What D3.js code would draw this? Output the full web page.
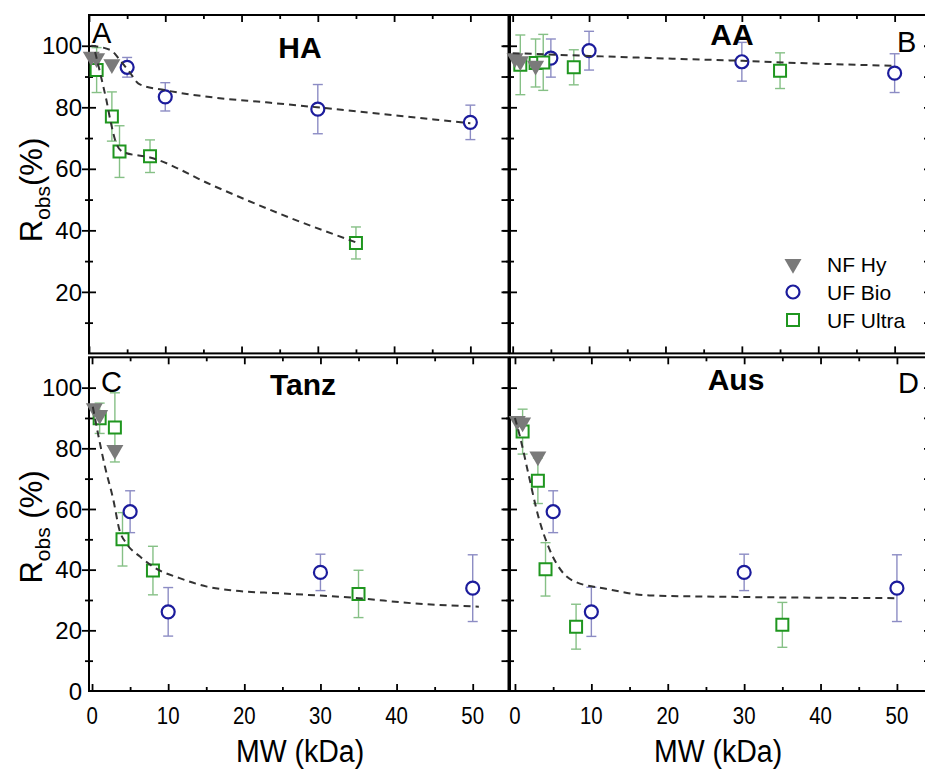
<!DOCTYPE html>
<html>
<head>
<meta charset="utf-8">
<script src="https://cdn.jsdelivr.net/npm/d3@7"></script>
<style>
  body { margin: 0; background: #fff; overflow: hidden; }
  text { font-family: "Liberation Sans", Arial, sans-serif; fill: #000; }
</style>
</head>
<body>
<script>
// MW of each membrane type (kDa)
var mwNF = [0.3, 1, 3],
    mwBio = [5, 10, 30, 50],
    mwUltra = [1, 3, 4, 8, 35];

// rejection values (%)
var nfHA = [96.5, 96, 94],
    bioHA = [93.0, 83.4, 79.4, 75.1],
    bioErrHA = [3.2, 4.6, 8, 5.6],
    ultraHA = [92.1, 77.0, 65.6, 64.1, 35.9],
    ultraErrHA = [7.3, 8, 8.4, 5.3, 5.2];

var nfAA = [96, 95, 93.5],
    bioAA = [96.0, 98.4, 94.8, 91.1],
    bioErrAA = [6.2, 6.3, 6.3, 6.3],
    ultraAA = [93.8, 94.4, 94.6, 93.0, 91.9],
    ultraErrAA = [9.7, 7.8, 9.1, 5.7, 5.8];

var nfTanz = [93.2, 91, 79.5],
    bioTanz = [59.1, 26.1, 39.1, 33.9],
    bioErrTanz = [6.9, 8, 6, 11],
    ultraTanz = [89.9, 86.9, 50.0, 39.7, 32.0],
    ultraErrTanz = [5, 11.4, 8.8, 8, 7.8];

var nfAus = [89, 88.5, 77.3],
    bioAus = [59.1, 26.1, 39.1, 33.9],
    bioErrAus = [6.9, 8.1, 6, 11],
    ultraAus = [85.5, 69.3, 40.1, 21.2, 21.8],
    ultraErrAus = [7.4, 7.5, 8.8, 7.4, 7.4];

// dashed fit curves [MW, R]
var fitHA1 = [[0.3,100],[2.9,98.5],[4,95.5],[5.3,91.5],[6.6,87.5],[9.9,85.6],[16.3,83.2],[23.2,81.6],[29.9,80],[40.3,77.3],[50,74.8]],
    fitHA2 = [[0.8,98],[1.6,89.7],[2.3,82.1],[2.9,74.6],[3.6,68.1],[4.5,65.4],[8,63.7],[16.3,54.5],[25,45.4],[35,36.1]],
    fitAA = [[0,97.6],[10,96.7],[20.9,95.8],[30.1,95.1],[38.4,94.3],[50,93.5]],
    fitTanz = [[0.1,93.7],[1.7,73.9],[2.8,63],[3.6,53.1],[4.5,48.7],[6.3,44.3],[8,41],[11.5,37.2],[15.1,34.4],[18.6,33.1],[24.7,32.2],[35,30.6],[42.2,28.9],[50.8,27.8]],
    fitAus = [[0,90],[0.66,83.8],[1.75,71.7],[3.07,57.4],[4.39,47.5],[6.37,38.7],[7.9,36],[11.9,33.7],[17.6,31.5],[29.4,31],[50,30.6]];

var xMajor = [0, 10, 20, 30, 40, 50],
    xMinor = [5, 15, 25, 35, 45],
    yMajor = [20, 40, 60, 80, 100],
    yMinor = [10, 30, 50, 70, 90],
    yLabelsTop = [20, 40, 60, 80, 100],
    yLabelsBottom = [0, 20, 40, 60, 80, 100];

var legendNames = ["NF Hy", "UF Bio", "UF Ultra"];

var cNF = "#7a7a7a", cBio = "#1c1c9c", cUltra = "#1f961f",
    cBioErr = "#8c8cc4", cUltraErr = "#86c086";

var width = 925, height = 770;

var svg = d3.select("body").append("svg")
    .attr("width", width)
    .attr("height", height)
    .style("display", "block");

var panels = [
  {name: "HA", letter: "A", left: 89, right: 508.5, xd: [0, 55], top: 15, bottom: 353.4,
   nf: nfHA, bio: bioHA, bioErr: bioErrHA, ultra: ultraHA, ultraErr: ultraErrHA, fits: [fitHA1, fitHA2],
   yLabels: yLabelsTop, xLabels: false, tx: 300, ty: 58, lx: 92, ly: 43},
  {name: "AA", letter: "B", left: 510, right: 931, xd: [-0.35, 54.76], top: 15, bottom: 353.4,
   nf: nfAA, bio: bioAA, bioErr: bioErrAA, ultra: ultraAA, ultraErr: ultraErrAA, fits: [fitAA],
   yLabels: null, xLabels: false, tx: 732, ty: 45, lx: 897, ly: 52},
  {name: "Tanz", letter: "C", left: 89, right: 508.5, xd: [-0.4, 54.7], top: 357.3, bottom: 691,
   nf: nfTanz, bio: bioTanz, bioErr: bioErrTanz, ultra: ultraTanz, ultraErr: ultraErrTanz, fits: [fitTanz],
   yLabels: yLabelsBottom, xLabels: true, tx: 303, ty: 395, lx: 101, ly: 392},
  {name: "Aus", letter: "D", left: 510, right: 931, xd: [-0.65, 54.46], top: 357.3, bottom: 691,
   nf: nfAus, bio: bioAus, bioErr: bioErrAus, ultra: ultraAus, ultraErr: ultraErrAus, fits: [fitAus],
   yLabels: null, xLabels: true, tx: 736, ty: 390, lx: 898, ly: 393}
];

var tri = d3.symbol().type(d3.symbolTriangle).size(125)(),
    sq = d3.symbol().type(d3.symbolSquare).size(144)();

function tickAxis(g, axis, tr, values, size) {
  g.append("g")
    .attr("transform", tr)
    .call(axis.tickValues(values).tickSize(size).tickFormat(""))
    .call(function(s) { s.select(".domain").remove(); })
    .selectAll("line").attr("stroke", "#000").attr("stroke-width", 1.8);
}

panels.forEach(function(p) {
  var x = d3.scaleLinear().domain(p.xd).range([p.left, p.right]);
  var y = d3.scaleLinear().domain([0, 110]).range([p.bottom, p.top]);
  var g = svg.append("g");

  // ticks: bottom/top/right inward, left in and out
  tickAxis(g, d3.axisBottom(x), "translate(0," + p.bottom + ")", xMajor, -7);
  tickAxis(g, d3.axisBottom(x), "translate(0," + p.bottom + ")", xMinor, -4);
  tickAxis(g, d3.axisTop(x), "translate(0," + p.top + ")", xMajor, -7);
  tickAxis(g, d3.axisTop(x), "translate(0," + p.top + ")", xMinor, -4);
  tickAxis(g, d3.axisRight(y), "translate(" + p.right + ",0)", yMajor, -7);
  tickAxis(g, d3.axisRight(y), "translate(" + p.right + ",0)", yMinor, -7);
  tickAxis(g, d3.axisLeft(y), "translate(" + p.left + ",0)", yMajor, 7);
  tickAxis(g, d3.axisLeft(y), "translate(" + p.left + ",0)", yMinor, 4);
  tickAxis(g, d3.axisLeft(y), "translate(" + p.left + ",0)", yMajor, -7);
  tickAxis(g, d3.axisLeft(y), "translate(" + p.left + ",0)", yMinor, -4);

  g.append("rect")
    .attr("x", p.left).attr("y", p.top)
    .attr("width", p.right - p.left).attr("height", p.bottom - p.top)
    .attr("fill", "none").attr("stroke", "#000").attr("stroke-width", 2);

  if (p.yLabels) {
    g.selectAll(".ylab").data(p.yLabels).enter().append("text")
      .attr("x", 82).attr("y", function(d) { return y(d); })
      .attr("dy", "0.36em")
      .attr("text-anchor", "end")
      .style("font-size", "24px")
      .text(function(d) { return d; });
  }
  if (p.xLabels) {
    g.selectAll(".xlab").data(xMajor).enter().append("text")
      .attr("transform", function(d) { return "translate(" + x(d) + ",724) scale(0.85,1)"; })
      .attr("text-anchor", "middle")
      .style("font-size", "24px")
      .text(function(d) { return d; });
    g.append("text")
      .attr("transform", "translate(" + (p.left < 300 ? 300 : 718) + ",762) scale(0.92,1)")
      .attr("text-anchor", "middle")
      .style("font-size", "31px")
      .text("MW (kDa)");
  }

  // error bars
  function errBars(xs, vals, errs, color) {
    var eg = g.append("g").attr("stroke", color).attr("stroke-width", 1.4);
    vals.forEach(function(v, i) {
      var cx = x(xs[i]), y1 = y(v - errs[i]), y2 = y(v + errs[i]);
      eg.append("line").attr("x1", cx).attr("x2", cx).attr("y1", y1).attr("y2", y2);
      eg.append("line").attr("x1", cx - 5).attr("x2", cx + 5).attr("y1", y1).attr("y2", y1);
      eg.append("line").attr("x1", cx - 5).attr("x2", cx + 5).attr("y1", y2).attr("y2", y2);
    });
  }
  errBars(mwBio, p.bio, p.bioErr, cBioErr);
  errBars(mwUltra, p.ultra, p.ultraErr, cUltraErr);

  g.selectAll(".bio").data(p.bio).enter().append("circle")
    .attr("cx", function(d, i) { return x(mwBio[i]); })
    .attr("cy", function(d) { return y(d); })
    .attr("r", 6.5)
    .attr("fill", "#fff").attr("stroke", cBio).attr("stroke-width", 2.2);

  g.selectAll(".ultra").data(p.ultra).enter().append("path")
    .attr("d", sq)
    .attr("transform", function(d, i) { return "translate(" + x(mwUltra[i]) + "," + y(d) + ")"; })
    .attr("fill", "#fff").attr("stroke", cUltra).attr("stroke-width", 2);

  g.selectAll(".nf").data(p.nf).enter().append("path")
    .attr("d", tri)
    .attr("transform", function(d, i) { return "translate(" + x(mwNF[i]) + "," + y(d) + ") rotate(180)"; })
    .attr("fill", cNF);

  var line = d3.line()
    .x(function(d) { return x(d[0]); })
    .y(function(d) { return y(d[1]); })
    .curve(d3.curveMonotoneX);
  p.fits.forEach(function(f) {
    g.append("path")
      .attr("d", line(f))
      .attr("fill", "none")
      .attr("stroke", "#333")
      .attr("stroke-width", 2)
      .attr("stroke-dasharray", "7,5");
  });

  g.append("text")
    .attr("x", p.tx).attr("y", p.ty)
    .attr("text-anchor", "middle")
    .style("font-size", "30px").style("font-weight", "bold")
    .text(p.name);
  g.append("text")
    .attr("x", p.lx).attr("y", p.ly)
    .style("font-size", "29px")
    .text(p.letter);
});

// legend
var lg = svg.append("g");
var legY = [264, 292, 320];
lg.append("path").attr("d", tri).attr("transform", "translate(793," + legY[0] + ") rotate(180)").attr("fill", cNF);
lg.append("circle").attr("cx", 793).attr("cy", legY[1]).attr("r", 6.5)
  .attr("fill", "#fff").attr("stroke", cBio).attr("stroke-width", 2.2);
lg.append("path").attr("d", sq).attr("transform", "translate(793," + legY[2] + ")")
  .attr("fill", "#fff").attr("stroke", cUltra).attr("stroke-width", 2);
lg.selectAll(".legtext").data(legendNames).enter().append("text")
  .attr("x", 827).attr("y", function(d, i) { return legY[i]; })
  .attr("dy", "0.36em")
  .style("font-size", "21px")
  .text(function(d) { return d; });

// y titles
[190, 527].forEach(function(cy, i) {
  var t = svg.append("text")
    .attr("transform", "translate(42," + cy + ") rotate(-90)")
    .attr("text-anchor", "middle")
    .style("font-size", "31px");
  t.append("tspan").text("R");
  t.append("tspan").attr("dy", 8).style("font-size", "21px").text("obs");
  t.append("tspan").attr("dy", -8).text(i === 0 ? "(%)" : " (%)");
});
</script>
</body>
</html>
